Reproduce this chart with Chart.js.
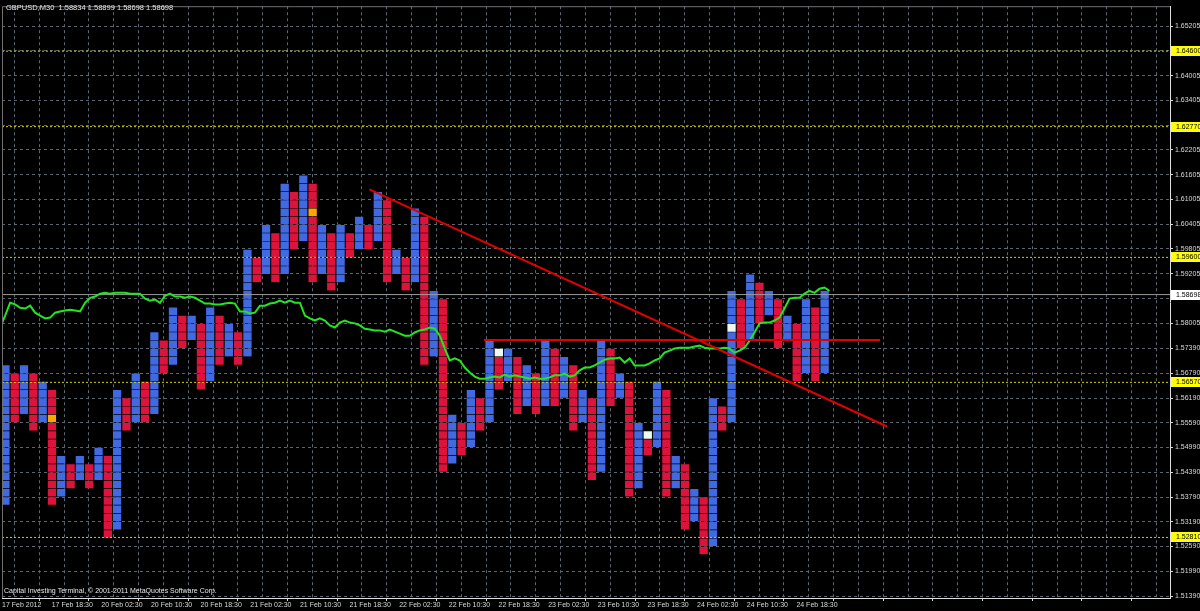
<!DOCTYPE html>
<html lang="en">
<head>
<meta charset="UTF-8">
<title>GBPUSD,M30</title>
<script src="https://cdn.jsdelivr.net/npm/chart.js"></script>
<style>
    html, body { margin: 0; padding: 0; background: #000; }
    #wrap { width: 1200px; height: 611px; }
</style>
</head>
<body>
<div id="wrap"><canvas id="pf" width="1200" height="611"></canvas></div>
<script>
// point & figure, box 20 pips, first column rising, then alternating
const BOX = 0.002;
const FIRST_UP = true;
const pfTop = [
    1.570, 1.568, 1.570, 1.568, 1.566, 1.564, 1.548, 1.546, 1.548, 1.546,
    1.550, 1.548, 1.564, 1.562, 1.568, 1.566, 1.578, 1.576, 1.584, 1.582,
    1.582, 1.580, 1.584, 1.582, 1.580, 1.578, 1.598, 1.596, 1.604, 1.602,
    1.614, 1.612, 1.616, 1.614, 1.604, 1.602, 1.604, 1.602, 1.606, 1.604,
    1.612, 1.610, 1.598, 1.596, 1.608, 1.606, 1.588, 1.586, 1.558, 1.556,
    1.564, 1.562, 1.576, 1.574, 1.574, 1.572, 1.570, 1.568, 1.576, 1.574,
    1.572, 1.570, 1.564, 1.562, 1.576, 1.574, 1.568, 1.566, 1.556, 1.554,
    1.566, 1.564, 1.548, 1.546, 1.540, 1.538, 1.562, 1.560, 1.588, 1.586,
    1.592, 1.590, 1.588, 1.586, 1.582, 1.580, 1.586, 1.584, 1.588
];
const pfBottom = [
    1.536, 1.556, 1.558, 1.554, 1.556, 1.536, 1.538, 1.540, 1.542, 1.540,
    1.542, 1.528, 1.530, 1.554, 1.556, 1.556, 1.558, 1.568, 1.570, 1.574,
    1.576, 1.564, 1.566, 1.570, 1.572, 1.570, 1.572, 1.590, 1.592, 1.590,
    1.592, 1.598, 1.600, 1.590, 1.592, 1.588, 1.590, 1.596, 1.598, 1.598,
    1.600, 1.590, 1.592, 1.588, 1.590, 1.570, 1.572, 1.544, 1.546, 1.548,
    1.550, 1.554, 1.556, 1.564, 1.566, 1.558, 1.560, 1.558, 1.560, 1.560,
    1.562, 1.554, 1.556, 1.542, 1.544, 1.560, 1.562, 1.538, 1.540, 1.548,
    1.550, 1.538, 1.540, 1.530, 1.532, 1.524, 1.526, 1.554, 1.556, 1.574,
    1.576, 1.580, 1.582, 1.574, 1.576, 1.566, 1.568, 1.566, 1.568
];
// marked boxes: [column, box low]
const orangeBoxes = [[5, 1.556], [33, 1.606]];
const whiteBoxes = [[53, 1.572], [69, 1.552], [78, 1.578]];

// M30 closes, sampled along the time axis
const GREEN_FIRST_BAR = -0.6;
const GREEN_STEP = 1.61;
const greenClose = [
    1.5790, 1.5819, 1.5850, 1.5846, 1.5838, 1.5836, 1.5843, 1.5826, 1.5819, 1.5812,
    1.5814, 1.5826, 1.5829, 1.5831, 1.5833, 1.5831, 1.5829, 1.5850, 1.5862, 1.5865,
    1.5872, 1.5874, 1.5872, 1.5874, 1.5874, 1.5874, 1.5872, 1.5872, 1.5872, 1.5860,
    1.5855, 1.5858, 1.5850, 1.5867, 1.5872, 1.5865, 1.5865, 1.5862, 1.5865, 1.5862,
    1.5855, 1.5848, 1.5848, 1.5846, 1.5846, 1.5848, 1.5850, 1.5848, 1.5829, 1.5829,
    1.5824, 1.5826, 1.5843, 1.5843, 1.5848, 1.5850, 1.5855, 1.5850, 1.5855, 1.5850,
    1.5850, 1.5819, 1.5812, 1.5807, 1.5812, 1.5807, 1.5795, 1.5790, 1.5802, 1.5807,
    1.5802, 1.5800, 1.5795, 1.5787, 1.5785, 1.5783, 1.5783, 1.5780, 1.5785, 1.5780,
    1.5775, 1.5770, 1.5770, 1.5778, 1.5783, 1.5785, 1.5790, 1.5787, 1.5770, 1.5739,
    1.5710, 1.5715, 1.5710, 1.5693, 1.5681, 1.5671, 1.5666, 1.5666, 1.5669, 1.5671,
    1.5669, 1.5676, 1.5671, 1.5674, 1.5671, 1.5669, 1.5666, 1.5669, 1.5666, 1.5666,
    1.5669, 1.5674, 1.5674, 1.5678, 1.5671, 1.5674, 1.5686, 1.5693, 1.5693, 1.5698,
    1.5705, 1.5712, 1.5715, 1.5715, 1.5717, 1.5705, 1.5715, 1.5698, 1.5698, 1.5698,
    1.5703, 1.5710, 1.5715, 1.5729, 1.5734, 1.5739, 1.5741, 1.5741, 1.5741, 1.5744,
    1.5746, 1.5741, 1.5739, 1.5739, 1.5739, 1.5741, 1.5739, 1.5729, 1.5734, 1.5741,
    1.5758, 1.5778, 1.5800, 1.5802, 1.5802, 1.5807, 1.5814, 1.5836, 1.5860, 1.5862,
    1.5862, 1.5872, 1.5879, 1.5874, 1.5884, 1.5887, 1.5879
];

// time axis: one label every 16 bars of M30
const timeLabels = [
    '17 Feb 2012', '17 Feb 18:30', '20 Feb 02:30', '20 Feb 10:30', '20 Feb 18:30',
    '21 Feb 02:30', '21 Feb 10:30', '21 Feb 18:30', '22 Feb 02:30', '22 Feb 10:30',
    '22 Feb 18:30', '23 Feb 02:30', '23 Feb 10:30', '23 Feb 18:30', '24 Feb 02:30',
    '24 Feb 10:30', '24 Feb 18:30'
];
const priceTicks = [
    1.65205, 1.64605, 1.64005, 1.63405, 1.62805, 1.62205, 1.61605, 1.61005,
    1.60405, 1.59805, 1.59205, 1.58605, 1.58005, 1.57390, 1.56790, 1.56190,
    1.55590, 1.54990, 1.54390, 1.53790, 1.53190, 1.52590, 1.51990, 1.51390
];
const hiddenTicks = [1.64605, 1.62805, 1.58605];
const levelLines = [1.64600, 1.62770, 1.59600, 1.56570, 1.52810];
const lastPrice = 1.58698;
// trend lines: [bar, price] pairs
const downTrend = [[118.4, 1.6125], [285.2, 1.5550]];
const neckLine = [[155.3, 1.5760], [283.0, 1.5760]];

const headerText = 'GBPUSD,M30  1.58834 1.58899 1.58698 1.58698';
const footerText = 'Capital Investing Terminal, \u00a9 2001-2011 MetaQuotes Software Corp.';

const X_MIN = 0, X_MAX = 376.4;
const BARS_PER_COL = 3;
const Y_MIN = 1.51342, Y_MAX = 1.65690;

// build boxes
const boxes = [], boxFill = [];
const key = (c, p) => c + ':' + p.toFixed(3);
const orangeSet = new Set(orangeBoxes.map(b => key(b[0], b[1])));
const whiteSet = new Set(whiteBoxes.map(b => key(b[0], b[1])));
pfTop.forEach((top, i) => {
    const up = (i % 2 === 0) === FIRST_UP;
    const n = Math.round((top - pfBottom[i]) / BOX);
    for (let k = 0; k < n; k++) {
        const lo = pfBottom[i] + k * BOX;
        boxes.push({x: i * BARS_PER_COL + 1, y: [lo, lo + BOX]});
        let c = up ? '#4169e1' : '#dc143c';
        if (orangeSet.has(key(i, lo))) c = '#ffa500';
        if (whiteSet.has(key(i, lo))) c = '#eefaee';
        boxFill.push(c);
    }
});

const flat = v => [{x: X_MIN, y: v}, {x: X_MAX, y: v}];
const pts = arr => arr.map(p => ({x: p[0], y: p[1]}));

const datasets = [
    {type: 'line', data: pts(downTrend), borderColor: '#e00000', borderWidth: 2, pointRadius: 0, order: 0},
    {type: 'line', data: pts(neckLine), borderColor: '#e00000', borderWidth: 2, pointRadius: 0, order: 0},
    {type: 'line', data: greenClose.map((v, i) => ({x: GREEN_FIRST_BAR + i * GREEN_STEP, y: v})),
        borderColor: '#22e622', borderWidth: 2, pointRadius: 0, tension: 0, order: 1},
    {type: 'line', data: flat(lastPrice), borderColor: '#9a9a9a', borderWidth: 1, pointRadius: 0, order: 2}
];
levelLines.forEach(v => datasets.push({
    type: 'line', data: flat(v), borderColor: '#d0d000', borderWidth: 1,
    borderDash: [2, 2], pointRadius: 0, order: 2
}));
datasets.push({
    type: 'bar', data: boxes, backgroundColor: boxFill,
    borderColor: 'rgba(0,0,0,0.3)', borderWidth: {top: 1, left: 1, right: 0, bottom: 0},
    borderSkipped: false, barThickness: 9, order: 5
});

const chrome = {
    id: 'chrome',
    afterDraw(chart) {
        const {ctx, chartArea: a, scales: {y}} = chart;
        ctx.save();
        ctx.strokeStyle = '#707070';
        ctx.lineWidth = 1;
        ctx.beginPath();
        ctx.moveTo(a.left + 0.5, a.bottom);
        ctx.lineTo(a.left + 0.5, a.top + 0.5);
        ctx.lineTo(a.right, a.top + 0.5);
        ctx.stroke();

        ctx.font = '7px "Liberation Sans"';
        ctx.textBaseline = 'middle';
        const tag = (v, bg) => {
            const py = Math.round(y.getPixelForValue(v));
            ctx.fillStyle = bg;
            ctx.fillRect(a.right + 1, py - 5, 30, 10);
            ctx.fillStyle = '#000';
            ctx.fillText(v.toFixed(5), a.right + 6, py + 0.5);
        };
        levelLines.forEach(v => tag(v, '#ffff00'));
        tag(lastPrice, '#ffffff');

        ctx.fillStyle = '#e6e6e6';
        ctx.textBaseline = 'top';
        ctx.font = '7.5px "Liberation Sans"';
        ctx.fillText(headerText, 6, 4);
        ctx.font = '7px "Liberation Sans"';
        ctx.fillText(footerText, 4, 588);
        ctx.restore();
    }
};

new Chart(document.getElementById('pf'), {
    type: 'bar',
    data: {datasets},
    options: {
        responsive: false,
        devicePixelRatio: 1,
        animation: false,
        layout: {padding: {left: 2, top: 5, right: 0, bottom: 0}},
        plugins: {legend: {display: false}, tooltip: {enabled: false}},
        scales: {
            x: {
                type: 'linear', min: X_MIN, max: X_MAX, offset: false,
                afterBuildTicks: s => {
                    const t = [];
                    for (let b = 0; b <= X_MAX; b += 8) t.push({value: b});
                    s.ticks = t;
                },
                afterFit: s => { s.height = 13; },
                ticks: {
                    autoSkip: false, maxRotation: 0, align: 'start', padding: 0,
                    color: '#d8d8d8', font: {family: 'Liberation Sans', size: 7},
                    callback: v => (v % 16 === 0 ? (timeLabels[v / 16] || '') : '')
                },
                grid: {
                    color: '#5c6670', tickLength: 3,
                    tickColor: c => (c.tick && c.tick.value % 16 === 0 ? '#d8d8d8' : 'transparent')
                },
                border: {color: '#e0e0e0', dash: [3, 3]}
            },
            y: {
                type: 'linear', position: 'right', min: Y_MIN, max: Y_MAX,
                afterBuildTicks: s => { s.ticks = priceTicks.map(v => ({value: v})); },
                afterFit: s => { s.width = 30; },
                ticks: {
                    autoSkip: false, padding: 2,
                    color: '#d8d8d8', font: {family: 'Liberation Sans', size: 7},
                    callback: v => (hiddenTicks.includes(v) ? '' : v.toFixed(5))
                },
                grid: {color: '#5c6670', tickLength: 3, tickColor: '#d8d8d8'},
                border: {color: '#e0e0e0', dash: [3, 3]}
            }
        }
    },
    plugins: [chrome]
});
</script>
</body>
</html>
